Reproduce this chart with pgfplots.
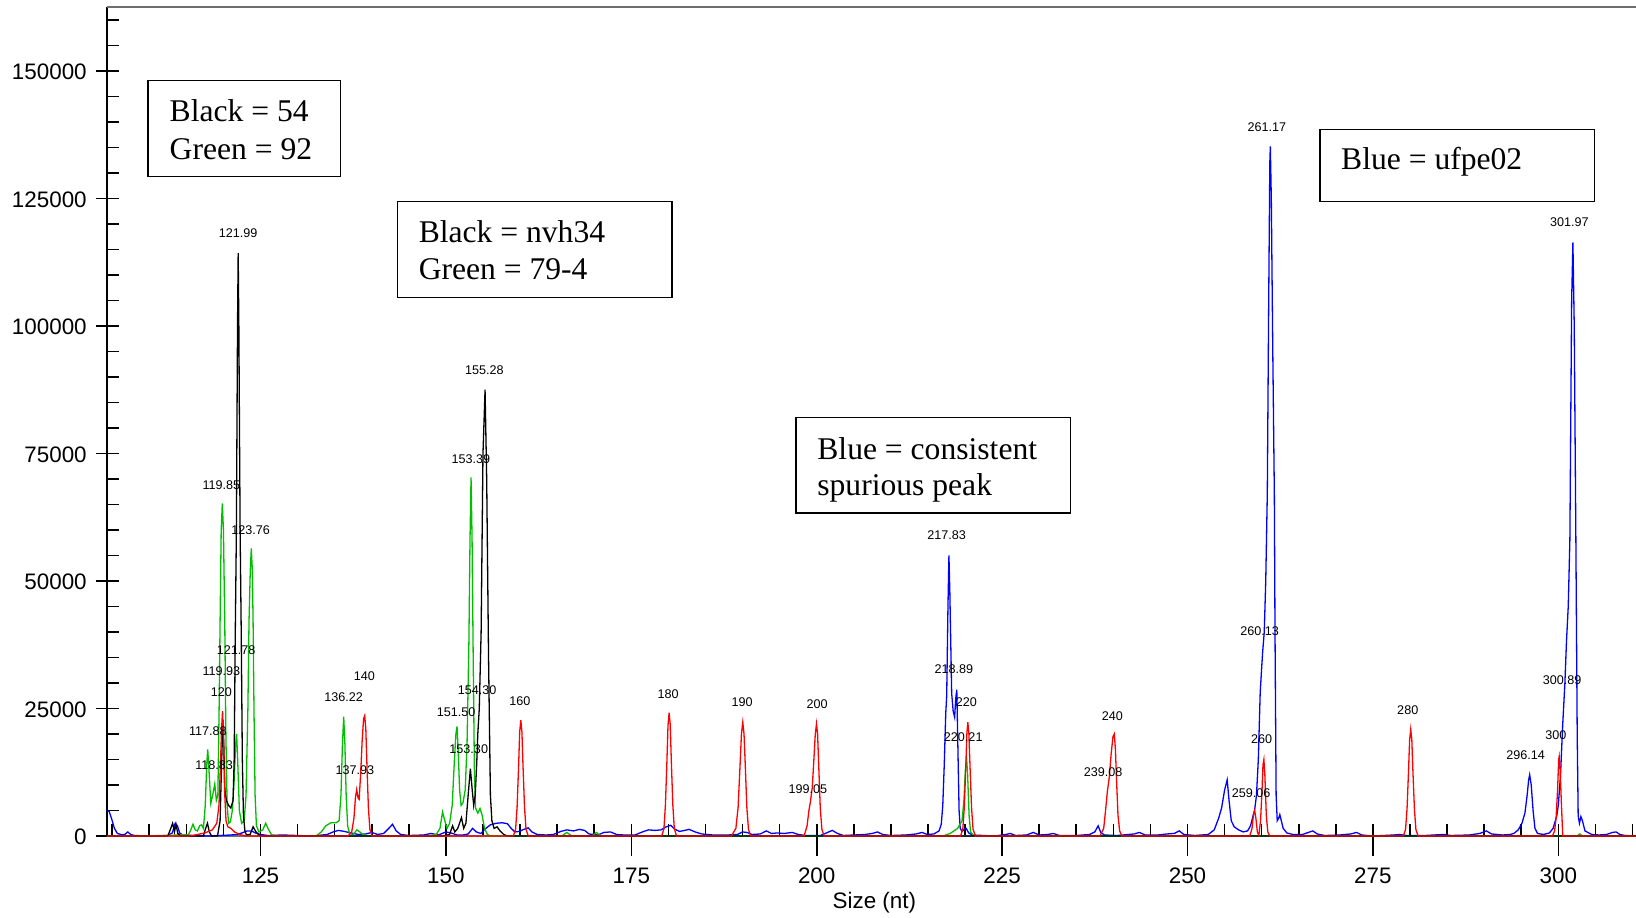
\documentclass[border=0pt]{standalone}
\usepackage{fontspec}
\setmainfont{Liberation Sans}
\newfontfamily\timesfont{Liberation Serif}
\usepackage{pgfplots}
\pgfplotsset{compat=1.18}
\definecolor{tgreen}{RGB}{0,190,0}
\definecolor{tred}{RGB}{255,0,0}
\definecolor{tblue}{RGB}{0,0,255}
\definecolor{axgray}{RGB}{110,110,110}
\tikzset{lbl/.style={font=\fontsize{6.3}{7}\selectfont, inner sep=0pt},
  boxtxt/.style={anchor=base west, inner sep=0pt, font=\timesfont\fontsize{15.8}{19}\selectfont}}
\begin{document}
\begin{tikzpicture}
\pgfplotsset{
  common/.style={scale only axis, width=764.65pt, height=414.65pt,
    xmin=104.26, xmax=310.48, ymin=0, ymax=162608,
    axis x line*=bottom, axis y line*=left, scaled ticks=false,
    tick style={black, line width=0.8pt}},
}
% outer parts of major x ticks
\begin{axis}[common, axis line style={draw=none}, tick align=outside, major tick length=10pt,
  xtick={125,150,175,200,225,250,275,300}, xticklabels={}, ytick=\empty]
\end{axis}
% outer parts of major y ticks
\begin{axis}[common, axis line style={draw=none}, tick align=outside, major tick length=5.5pt,
  ytick={0,25000,50000,75000,100000,125000,150000}, yticklabels={}, xtick=\empty]
\end{axis}
% main axis
\begin{axis}[common,
  x axis line style={draw=axgray, line width=1.1pt, -},
  y axis line style={draw=black, line width=0.9pt, -},
  tick align=inside, major tick length=6.2pt, minor tick length=6pt,
  xtick={125,150,175,200,225,250,275,300},
  xticklabels={125,150,175,200,225,250,275,300},
  minor xtick={105,110,...,310},
  ytick={0,25000,50000,75000,100000,125000,150000},
  yticklabels={0,25000,50000,75000,100000,125000,150000},
  minor ytick={5000,10000,...,160000},
  xticklabel style={anchor=center, inner sep=0pt, yshift=-20pt, font=\fontsize{11.2}{13}\selectfont},
  yticklabel style={anchor=east, inner sep=0pt, xshift=-9.8pt, yshift=-0.4pt, font=\fontsize{11.2}{13}\selectfont},
  xlabel={Size (nt)},
  xlabel style={at={(axis description cs:0.502,0)}, anchor=center, inner sep=0pt, yshift=-33.5pt, font=\fontsize{11.2}{13}\selectfont},
  every axis plot/.append style={line width=0.65pt, mark=none},
]
% BLUE
\addplot[tblue] coordinates {
(104.26,5000) (104.6,4800) (104.9,3500) (105.3,1500) (105.7,500) (106.2,300) (106.7,300) (107.1,800) (107.5,300) (108,100) (110,0) (112.5,100) (113.1,600) (113.5,2500) (113.8,2000) (114.1,600) (114.5,200) (116,100) (118,0) (121,200) (121.8,300) (122.5,600) (123.2,1000) (123.8,1000) (124.3,600) (125,300) (126,100) (128,200) (130,100) (132,0) (134,300) (134.8,800) (135.5,1100) (136.3,900) (137.2,600) (138.2,300) (139.2,400) (140,700) (140.8,300) (141.6,500) (142.3,1500) (142.8,2300) (143.3,1000) (143.9,300) (145,100) (147,200) (148,500) (149,200) (150,800) (150.7,600) (151.5,200) (152.3,200) (153,400) (153.6,1500) (154.1,800) (154.7,500) (155.4,1500) (156,2200) (156.8,2500) (157.6,2600) (158.3,2400) (158.8,1500) (159.3,800) (159.9,900) (160.5,1300) (161.1,1600) (161.6,800) (162.3,300) (163.5,200) (164.5,300) (165.5,900) (166.3,1200) (167.2,1000) (168.0,1300) (168.7,1100) (169.3,400) (170.5,200) (171.3,700) (172.2,800) (173,300) (174,200) (175.5,200) (176.5,800) (177.3,1200) (178.2,1100) (179,1200) (179.7,1800) (180.3,2100) (180.9,1300) (181.5,900) (182.2,1100) (182.8,1300) (183.6,800) (184.5,400) (186,200) (188,200) (189.3,300) (190,800) (190.6,700) (191.3,300) (192.4,400) (193.2,1000) (193.9,500) (194.7,600) (195.6,500) (196.7,700) (197.5,300) (198.5,100) (200.5,100) (201.3,600) (202.1,1100) (202.8,500) (203.6,100) (205,200) (206.5,300) (207.5,500) (208.2,800) (208.9,300) (210,100) (212,200) (213.4,400) (214.2,700) (214.9,300) (215.8,400) (216.5,1000) (216.8,2300) (217.0,6000) (217.2,14000) (217.4,24000) (217.53,27500) (217.7,45000) (217.83,55000) (217.95,48000) (218.05,40000) (218.2,28000) (218.4,24500) (218.6,23300) (218.75,27000) (218.89,28700) (219.03,18000) (219.2,5000) (219.35,1500) (219.6,900) (219.9,1300) (220.15,1500) (220.5,600) (221,200) (222.5,100) (224,0) (225.5,300) (226.1,500) (226.8,100) (228.3,200) (229.2,700) (230,200) (231.2,300) (231.9,500) (232.7,100) (235,100) (236.8,300) (237.5,800) (237.95,2000) (238.3,700) (238.8,200) (240.5,100) (242,300) (242.8,400) (243.5,700) (244.3,200) (246,200) (247.2,400) (248.2,500) (248.9,1000) (249.5,300) (251,100) (252.8,300) (253.6,1200) (254.2,3500) (254.6,5500) (255.0,9000) (255.35,11000) (255.6,7000) (255.9,3000) (256.3,1800) (256.9,1200) (257.5,800) (258.1,1000) (258.5,2000) (258.85,4000) (259.06,5200) (259.3,8000) (259.55,15000) (259.8,28000) (260.0,33000) (260.13,36000) (260.35,40000) (260.55,50000) (260.76,67000) (260.95,105000) (261.1,132000) (261.17,135200) (261.3,125000) (261.5,95000) (261.71,67000) (261.8,40000) (261.95,8000) (262.1,3000) (262.3,3500) (262.45,4200) (262.65,3000) (262.9,1500) (263.4,600) (264.2,300) (265.5,300) (266.3,700) (266.9,1000) (267.5,400) (268.5,100) (270.5,200) (272,400) (272.8,700) (273.5,200) (275,0) (277.8,200) (278.6,300) (279.5,100) (282,100) (284.5,300) (285.5,100) (288,200) (289.4,500) (290.3,1000) (291.0,400) (292.5,200) (293.5,300) (294.0,500) (294.6,1200) (295.1,2500) (295.5,4500) (295.8,8000) (296.0,11000) (296.14,12000) (296.35,10000) (296.6,5000) (296.85,1500) (297.2,500) (298,300) (298.8,600) (299.3,1500) (299.8,4000) (300.0,6000) (300.3,12000) (300.6,22000) (300.89,30000) (301.1,38000) (301.34,45000) (301.56,58000) (301.8,105000) (301.97,116400) (302.15,100000) (302.37,58000) (302.55,20000) (302.68,4000) (302.85,2500) (303.05,3800) (303.25,3000) (303.6,1000) (304.5,300) (305.5,200) (306.5,300) (307.3,700) (307.8,800) (308.3,300) (309,100) (310.48,0)
};
% GREEN
\addplot[tgreen] coordinates {
(104.26,0) (108,0) (112,100) (114,200) (115.3,300) (115.6,1200) (115.9,2300) (116.2,1200) (116.5,1000) (116.8,2000) (117.05,2200) (117.3,1500) (117.55,6000) (117.75,14000) (117.88,17000) (118.05,13000) (118.3,6400) (118.55,8000) (118.83,10200) (119.05,7000) (119.25,8000) (119.42,25000) (119.55,42000) (119.7,60000) (119.85,65200) (120.0,60000) (120.18,42000) (120.33,20000) (120.5,6000) (120.7,2500) (120.95,2800) (121.2,5000) (121.45,11000) (121.65,18000) (121.78,20000) (121.92,15000) (122.15,5000) (122.45,2500) (122.8,3000) (123.05,8000) (123.3,25000) (123.45,42000) (123.62,52000) (123.76,56400) (123.9,52000) (124.0,42000) (124.12,25000) (124.27,8000) (124.45,2000) (124.8,800) (125.3,1200) (125.7,2500) (126.0,1500) (126.5,200) (128,0) (132.5,0) (133.2,800) (133.8,2000) (134.5,2600) (135.2,2600) (135.6,3000) (135.85,8000) (136.05,18000) (136.22,23400) (136.38,18000) (136.55,8000) (136.75,2000) (137.0,500) (137.5,300) (138.0,1200) (138.4,800) (138.8,300) (139.5,0) (147.5,0) (148.7,300) (149.2,1500) (149.55,4700) (149.85,3000) (150.15,1500) (150.5,2500) (150.85,6000) (151.15,15000) (151.35,20000) (151.5,21500) (151.65,17000) (151.85,9000) (152.05,6000) (152.3,6500) (152.6,9000) (152.85,18000) (153.1,38000) (153.25,58000) (153.39,70300) (153.53,58000) (153.68,35000) (153.85,12000) (154.0,5500) (154.3,4500) (154.6,5400) (154.9,4000) (155.2,1500) (155.6,300) (156,0) (165.6,0) (166.3,700) (167,0) (169.7,0) (170.3,700) (170.9,0) (217,0) (218,500) (219,1500) (219.6,3000) (219.85,7000) (220.05,13000) (220.21,15400) (220.35,12000) (220.55,4000) (220.75,800) (221.2,0) (302.5,0) (302.9,400) (303.3,0) (310.48,0)
};
% BLACK
\addplot[black] coordinates {
(104.26,0) (112.5,0) (112.9,1500) (113.15,2500) (113.4,800) (113.6,2300) (113.85,500) (114.2,0) (117.3,0) (117.6,1500) (117.85,2500) (118.1,800) (118.4,0) (119.2,0) (119.55,3000) (119.75,14000) (119.93,22700) (120.05,18000) (120.2,9000) (120.4,7000) (120.7,6000) (121.0,5500) (121.3,7000) (121.45,15000) (121.6,40000) (121.75,60000) (121.9,100000) (121.99,114300) (122.08,100000) (122.25,60000) (122.4,40000) (122.55,15000) (122.7,4000) (122.9,1000) (123.1,200) (123.6,300) (124.0,1800) (124.4,800) (124.8,200) (125.3,0) (149.5,0) (150.5,300) (150.9,2000) (151.2,800) (151.6,1500) (152.1,3600) (152.4,1500) (152.7,2500) (153.0,8000) (153.3,13200) (153.55,9000) (153.75,6000) (153.95,8000) (154.15,14000) (154.3,20000) (154.5,25000) (154.75,40000) (155.0,75000) (155.28,87500) (155.5,70000) (155.75,35000) (156.0,8000) (156.2,3000) (156.5,1500) (156.9,1800) (157.3,1000) (157.8,300) (158.3,0) (310.48,0)
};
% RED
\addplot[tred] coordinates {
(104.26,0) (115.5,0) (116.5,300) (117.5,600) (118.5,1200) (119.1,2500) (119.4,6000) (119.6,14000) (119.75,21000) (119.88,24500) (120.0,20000) (120.15,9000) (120.35,3000) (120.6,1800) (121.0,1500) (121.5,800) (122.2,300) (123.0,0)
(136.8,0) (137.3,800) (137.6,3500) (137.8,7500) (137.97,9100) (138.15,7500) (138.3,7200) (138.5,12000) (138.7,18500) (138.9,23000) (139.05,23600) (139.2,21000) (139.35,14000) (139.55,5500) (139.75,1300) (140.05,0)
(159.1,0) (159.4,1360) (159.6,5680) (159.8,13620) (159.95,20430) (160.1,22700) (160.25,20430) (160.4,13620) (160.6,5680) (160.8,1360) (161.1,0)
(179.1,0) (179.4,1450) (179.6,6050) (179.8,14520) (179.95,21780) (180.1,24200) (180.25,21780) (180.4,14520) (180.6,6050) (180.8,1450) (181.1,0)
(188.5,0) (189.1,1500) (189.4,5600) (189.65,13400) (189.85,20000) (190.03,22300) (190.2,20000) (190.38,13400) (190.58,5600) (190.8,1300) (191.1,0)
(198.3,0) (198.7,2000) (198.95,5000) (199.15,6700) (199.4,9500) (199.6,14500) (199.8,19800) (199.97,22000) (200.12,20000) (200.28,13500) (200.48,5500) (200.7,1300) (201.0,0)
(219.4,0) (219.7,1340) (219.9,5580) (220.1,13380) (220.25,20070) (220.38,22300) (220.52,20070) (220.68,13380) (220.88,5580) (221.08,1340) (221.4,0)
(238.2,0) (238.7,1500) (238.95,5000) (239.2,8800) (239.45,11500) (239.7,16000) (239.95,19500) (240.13,20000) (240.28,17000) (240.43,11000) (240.63,4000) (240.85,1000) (241.15,0)
(258.4,0) (258.7,1500) (258.9,4200) (259.06,5000) (259.22,3500) (259.42,800) (259.62,100) (259.85,3000) (260.05,9000) (260.18,14000) (260.3,15000) (260.43,12000) (260.63,4000) (260.83,800) (261.1,0)
(279.1,0) (279.4,1250) (279.6,5230) (279.8,12540) (279.95,18810) (280.1,20900) (280.25,18810) (280.4,12540) (280.6,5230) (280.8,1250) (281.1,0)
(299.2,0) (299.5,1000) (299.7,3500) (299.9,9000) (300.05,15000) (300.12,15600) (300.25,13000) (300.4,7000) (300.6,0) (310.48,0)
};
% peak labels
\node[lbl] at (axis cs:121.99,118150) {121.99};
\node[lbl] at (axis cs:119.73,68800) {119.85};
\node[lbl] at (axis cs:123.67,59990) {123.76};
\node[lbl] at (axis cs:155.19,91350) {155.28};
\node[lbl] at (axis cs:153.36,73920) {153.39};
\node[lbl] at (axis cs:217.51,58960) {217.83};
\node[lbl] at (axis cs:260.7,139080) {261.17};
\node[lbl] at (axis cs:301.5,120430) {301.97};
\node[lbl] at (axis cs:121.70,36420) {121.78};
\node[lbl] at (axis cs:119.73,32320) {119.93};
\node[lbl] at (axis cs:119.73,28230) {120};
\node[lbl] at (axis cs:117.91,20650) {117.88};
\node[lbl] at (axis cs:118.75,13880) {118.83};
\node[lbl] at (axis cs:136.20,27200) {136.22};
\node[lbl] at (axis cs:139.01,31300) {140};
\node[lbl] at (axis cs:137.74,12860) {137.93};
\node[lbl] at (axis cs:154.20,28640) {154.30};
\node[lbl] at (axis cs:151.39,24330) {151.50};
\node[lbl] at (axis cs:153.08,16960) {153.30};
\node[lbl] at (axis cs:159.97,26380) {160};
\node[lbl] at (axis cs:179.95,27820) {180};
\node[lbl] at (axis cs:189.94,26180) {190};
\node[lbl] at (axis cs:200.07,25770) {200};
\node[lbl] at (axis cs:198.80,9170) {199.05};
\node[lbl] at (axis cs:218.50,32730) {218.89};
\node[lbl] at (axis cs:220.19,26180) {220};
\node[lbl] at (axis cs:219.76,19420) {220.21};
\node[lbl] at (axis cs:239.88,23510) {240};
\node[lbl] at (axis cs:238.62,12450) {239.08};
\node[lbl] at (axis cs:259.72,40110) {260.13};
\node[lbl] at (axis cs:260.00,19010) {260};
\node[lbl] at (axis cs:258.59,8350) {259.06};
\node[lbl] at (axis cs:279.70,24740) {280};
\node[lbl] at (axis cs:300.52,30480) {300.89};
\node[lbl] at (axis cs:299.67,19830) {300};
\node[lbl] at (axis cs:295.59,15930) {296.14};
% text boxes
\draw[line width=0.75pt] (axis cs:109.83,129300) rectangle (axis cs:135.76,148100);
\node[boxtxt] at (axis cs:112.70,140190) {Black = 54};
\node[boxtxt] at (axis cs:112.70,132680) {Green = 92};
\draw[line width=0.75pt] (axis cs:143.47,105600) rectangle (axis cs:180.49,124400);
\node[boxtxt] at (axis cs:146.29,116470) {Black = nvh34};
\node[boxtxt] at (axis cs:146.29,109100) {Green = 79-4};
\draw[line width=0.75pt] (axis cs:197.21,63300) rectangle (axis cs:234.22,82100);
\node[boxtxt] at (axis cs:200.04,73920) {Blue = consistent};
\node[boxtxt] at (axis cs:200.04,66750) {spurious peak};
\draw[line width=0.75pt] (axis cs:267.87,124400) rectangle (axis cs:304.87,138500);
\node[boxtxt] at (axis cs:270.67,130590) {Blue = ufpe02};
\end{axis}
\draw[axgray, line width=0.9pt] (0,414.65pt) -- (764.65pt,414.65pt);
\pgfresetboundingbox
\useasboundingbox (-53.35pt,-40.5pt) rectangle (764.65pt,418pt);
\end{tikzpicture}
\end{document}
